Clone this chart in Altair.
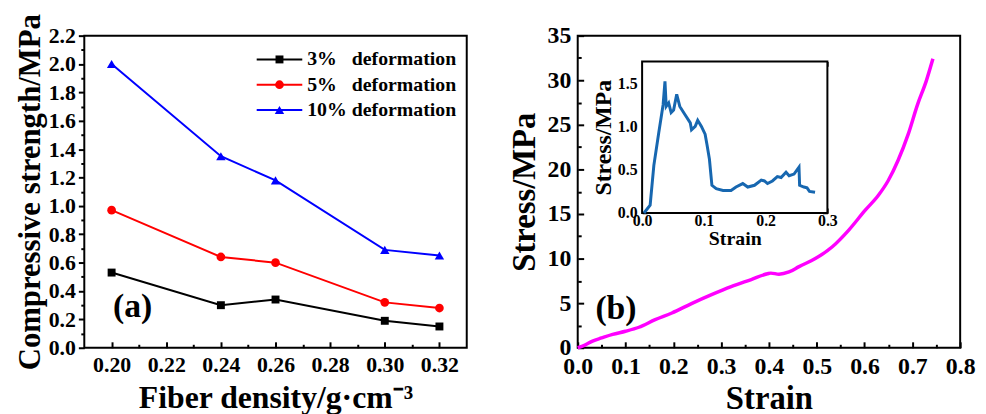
import altair as alt
import pandas as pd

FONT = "Liberation Serif"

# ---------------- panel (a) data ----------------
density = [0.20, 0.24, 0.26, 0.30, 0.32]
strength_3 = [0.53, 0.30, 0.34, 0.19, 0.15]
strength_5 = [0.97, 0.64, 0.60, 0.32, 0.28]
strength_10 = [2.00, 1.35, 1.18, 0.69, 0.65]
series_names = ["3%\u00a0\u00a0\u00a0deformation", "5%\u00a0\u00a0\u00a0deformation", "10% deformation"]
series_colors = ["#000000", "#ff0000", "#0000ff"]
series_shapes = ["square", "circle", "triangle-up"]
series_sizes = [64, 90, 110]

a_x_major = [0.20, 0.22, 0.24, 0.26, 0.28, 0.30, 0.32]
a_x_minor = [0.21, 0.23, 0.25, 0.27, 0.29, 0.31]
a_y_major = [0.0, 0.2, 0.4, 0.6, 0.8, 1.0, 1.2, 1.4, 1.6, 1.8, 2.0, 2.2]
a_y_minor = [0.1, 0.3, 0.5, 0.7, 0.9, 1.1, 1.3, 1.5, 1.7, 1.9, 2.1]

# ---------------- panel (b) data ----------------
main_strain = [0.000, 0.015, 0.031, 0.050, 0.073, 0.100, 0.128, 0.162, 0.197, 0.238, 0.280,
               0.321, 0.363, 0.397, 0.404, 0.421, 0.442, 0.463, 0.497, 0.532, 0.567, 0.601,
               0.629, 0.649, 0.670, 0.691, 0.711, 0.729, 0.743]
main_stress = [0.00, 0.30, 0.75, 1.10, 1.50, 1.85, 2.30, 3.15, 3.90, 4.95, 5.95,
               6.85, 7.65, 8.30, 8.37, 8.25, 8.50, 9.10, 10.0, 11.3, 13.2, 15.4,
               17.1, 18.7, 21.0, 23.9, 27.3, 29.9, 32.4]

inset_strain = [0.003, 0.013, 0.019, 0.027, 0.034, 0.037, 0.039, 0.043, 0.047, 0.051, 0.056,
                0.061, 0.069, 0.078, 0.080, 0.086, 0.090, 0.096, 0.102, 0.105, 0.109, 0.111,
                0.113, 0.120, 0.131, 0.144, 0.152, 0.163, 0.171, 0.182, 0.193, 0.198, 0.203,
                0.211, 0.219, 0.225, 0.233, 0.238, 0.246, 0.254, 0.255, 0.262, 0.267, 0.271,
                0.280]
inset_stress = [0.00, 0.09, 0.55, 0.93, 1.25, 1.52, 1.23, 1.27, 1.16, 1.19, 1.37,
                1.23, 1.14, 1.04, 0.96, 1.00, 1.07, 1.00, 0.91, 0.79, 0.62, 0.47,
                0.32, 0.28, 0.26, 0.26, 0.30, 0.34, 0.30, 0.32, 0.38, 0.37, 0.34,
                0.37, 0.42, 0.41, 0.47, 0.43, 0.45, 0.53, 0.32, 0.30, 0.29, 0.25,
                0.24]

b_x_major = [0.0, 0.1, 0.2, 0.3, 0.4, 0.5, 0.6, 0.7, 0.8]
b_x_minor = [0.05, 0.15, 0.25, 0.35, 0.45, 0.55, 0.65, 0.75]
b_y_major = [0, 5, 10, 15, 20, 25, 30, 35]
b_y_minor = [2.5, 7.5, 12.5, 17.5, 22.5, 27.5, 32.5]
i_x_major = [0.0, 0.1, 0.2, 0.3]
i_x_minor = [0.05, 0.15, 0.25]
i_y_major = [0.0, 0.5, 1.0, 1.5]
i_y_minor = [0.25, 0.75, 1.25, 1.75]

a_x_domain = [0.19, 0.33]
a_y_domain = [0.0, 2.2]
b_x_domain = [0.0, 0.8]
b_y_domain = [0.0, 35.0]
inset_x_domain = [0.0, 0.3]
inset_y_domain = [0.0, 1.75]

W, H = 386, 315
# inset frame in plot pixels of panel (b)
IL, IR, IT, IB = 65, 252, 26, 179
# legend box layout in plot pixels of panel (a)
LEG_X0, LEG_X1, LEG_XM, LEG_XT = 174, 220, 197, 225
LEG_ROW_TOP, LEG_ROW_BOTTOM = 24, 75


def major_axis(values, fmt, orient, tick, offset, size, pad, title=None, tsize=None, tpad=0, width=2):
    kw = dict(values=values, format=fmt, orient=orient, tickSize=tick, offset=offset,
              tickWidth=width, labelFontSize=size, labelPadding=pad, labelOverlap=False,
              labelFlush=False)
    if title is None:
        kw["title"] = None
    else:
        kw.update(title=title, titleFontSize=tsize, titlePadding=tpad)
    return alt.Axis(**kw)


def minor_axis(values, orient, tick, offset, width=2):
    return alt.Axis(values=values, orient=orient, tickSize=tick, offset=offset, tickWidth=width,
                    labels=False, title=None)


# ---------------- panel (a) ----------------
df_a = pd.DataFrame({
    "density": density * 3,
    "strength": strength_3 + strength_5 + strength_10,
    "series": [n for n in series_names for _ in density],
})


def xa(axis=None):
    return alt.X("density:Q", scale=alt.Scale(domain=a_x_domain, nice=False, zero=False), axis=axis)


def ya(axis=None):
    return alt.Y("strength:Q", scale=alt.Scale(domain=a_y_domain, nice=False, zero=False), axis=axis)


color_enc = alt.Color("series:N", scale=alt.Scale(domain=series_names, range=series_colors), legend=None)
shape_enc = alt.Shape("series:N", scale=alt.Scale(domain=series_names, range=series_shapes), legend=None)
size_enc = alt.Size("series:N", scale=alt.Scale(domain=series_names, range=series_sizes), legend=None)

base_a = alt.Chart(df_a)
lines_a = base_a.mark_line(strokeWidth=2).encode(
    x=xa(major_axis(a_x_major, ".2f", "bottom", 6, -6, 22, 7,
                    "Fiber density/g\u00b7cm\u207b\u00b3", 32, 7)),
    y=ya(major_axis(a_y_major, ".1f", "left", 6, 0, 22, 3,
                    "Compressive strength/MPa", 31, 2)),
    color=color_enc,
)
points_a = base_a.mark_point(filled=True, opacity=1).encode(
    x=xa(), y=ya(), color=color_enc, shape=shape_enc, size=size_enc,
)
minor_a = base_a.mark_point(opacity=0).encode(
    x=xa(minor_axis(a_x_minor, "bottom", 3.5, -3.5)),
    y=ya(minor_axis(a_y_minor, "left", 3.5, 0)),
)
label_a = alt.Chart(pd.DataFrame({"density": [0.2005], "strength": [0.215], "t": ["(a)"]})).mark_text(
    font=FONT, fontSize=34, fontWeight="bold", align="left", baseline="alphabetic", color="black"
).encode(x=xa(), y=ya(), text="t:N")

# legend (drawn as marks inside panel a)
df_leg = pd.DataFrame({"series": series_names, "row": list(range(len(series_names)))})
leg_y = alt.Y("row:Q", scale=alt.Scale(domain=[0, len(series_names) - 1],
                                       range=[LEG_ROW_TOP, LEG_ROW_BOTTOM], nice=False, zero=False),
              axis=None)
leg_base = alt.Chart(df_leg)
leg_lines = leg_base.mark_rule(strokeWidth=2).encode(
    x=alt.value(LEG_X0), x2=alt.value(LEG_X1), y=leg_y, color=color_enc)
leg_marks = leg_base.mark_point(filled=True, opacity=1).encode(
    x=alt.value(LEG_XM), y=leg_y, color=color_enc, shape=shape_enc, size=size_enc)
leg_text = leg_base.mark_text(
    font=FONT, fontSize=20, fontWeight="bold", align="left", baseline="middle", color="black"
).encode(x=alt.value(LEG_XT), y=leg_y, text="series:N")

panel_a = alt.layer(lines_a, points_a, minor_a, label_a, leg_lines, leg_marks, leg_text).resolve_scale(
    x="independent", y="independent"
).properties(width=W, height=H)

# ---------------- panel (b) ----------------
df_main = pd.DataFrame({"strain": main_strain, "stress": main_stress})
df_inset = pd.DataFrame({"strain": inset_strain, "stress": inset_stress})
df_frame = pd.DataFrame({"x0": [inset_x_domain[0]], "x1": [inset_x_domain[1]],
                         "y0": [inset_y_domain[0]], "y1": [inset_y_domain[1]]})


def xb(axis=None, field="strain:Q"):
    return alt.X(field, scale=alt.Scale(domain=b_x_domain, nice=False, zero=False), axis=axis)


def yb(axis=None, field="stress:Q"):
    return alt.Y(field, scale=alt.Scale(domain=b_y_domain, nice=False, zero=False), axis=axis)


def xi(axis=None, field="strain:Q"):
    return alt.X(field, scale=alt.Scale(domain=inset_x_domain, range=[IL, IR], nice=False, zero=False), axis=axis)


def yi(axis=None, field="stress:Q"):
    return alt.Y(field, scale=alt.Scale(domain=inset_y_domain, range=[IB, IT], nice=False, zero=False), axis=axis)


main_line = alt.Chart(df_main).mark_line(color="#ff00ff", strokeWidth=3.5, interpolate="monotone").encode(
    x=xb(major_axis(b_x_major, ".1f", "bottom", 6, -6, 24, 7, "Strain", 33, 4)),
    y=yb(major_axis(b_y_major, "d", "left", 6, -6, 24, 7, "Stress/MPa", 33, 6)),
)
main_minor = alt.Chart(df_main).mark_point(opacity=0).encode(
    x=xb(minor_axis(b_x_minor, "bottom", 3.5, -3.5)),
    y=yb(minor_axis(b_y_minor, "left", 3.5, -3.5)),
)

frame = alt.Chart(df_frame).mark_rect(fill="white", stroke="black", strokeWidth=2).encode(
    x=xi(major_axis(i_x_major, ".1f", "bottom", 5, -(H - IB + 5), 16, 0, "Strain", 20, 0, 1.5), "x0:Q"),
    x2="x1:Q",
    y=yi(major_axis(i_y_major, ".1f", "left", 5, -(IL + 5), 16, 5, "Stress/MPa", 24, 2, 1.5), "y0:Q"),
    y2="y1:Q",
)
inset_line = alt.Chart(df_inset).mark_line(color="#1767b0", strokeWidth=3).encode(
    x=xi(minor_axis(i_x_major, "top", 5, -(IT + 5), 1.5)),
    y=yi(minor_axis(i_y_major, "right", 5, IR - 5 - W, 1.5)),
)
inset_minor_a = alt.Chart(df_inset).mark_point(opacity=0).encode(
    x=xi(minor_axis(i_x_minor, "bottom", 3, -(H - IB + 3), 1.5)),
    y=yi(minor_axis(i_y_minor, "left", 3, -(IL + 3), 1.5)),
)
inset_minor_b = alt.Chart(df_inset).mark_point(opacity=0).encode(
    x=xi(minor_axis(i_x_minor, "top", 3, -(IT + 3), 1.5)),
    y=yi(minor_axis(i_y_minor, "right", 3, IR - 3 - W, 1.5)),
)

label_b = alt.Chart(pd.DataFrame({"strain": [0.037], "stress": [3.2], "t": ["(b)"]})).mark_text(
    font=FONT, fontSize=34, fontWeight="bold", align="left", baseline="alphabetic", color="black"
).encode(x=xb(), y=yb(), text="t:N")

panel_b = alt.layer(main_line, main_minor, frame, inset_line, inset_minor_a, inset_minor_b, label_b).resolve_scale(
    x="independent", y="independent"
).properties(width=W, height=H)

chart = alt.hconcat(panel_a, panel_b, spacing=40).properties(
    padding={"left": 5, "top": 2, "right": 2, "bottom": 2}
).configure_view(stroke="black", strokeWidth=2).configure_axis(
    grid=False, domain=False, tickColor="black", labelColor="black", titleColor="black",
    labelFont=FONT, titleFont=FONT, labelFontWeight="bold", titleFontWeight="bold",
    labelFlush=False, labelOverlap=False,
)

chart.save("out.html", embed_options={"renderer": "svg", "actions": False})
